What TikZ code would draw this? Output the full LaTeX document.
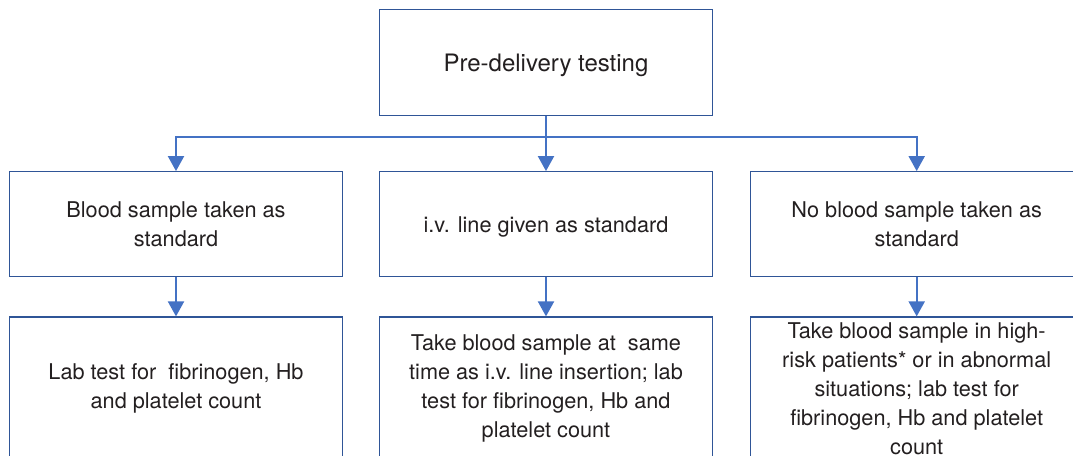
\documentclass[tikz,border=0pt]{standalone}
\usepackage{fontspec}
\setmainfont{TeX Gyre Heros}
\usetikzlibrary{arrows.meta}
\definecolor{boxblue}{HTML}{2F5597}
\definecolor{flowblue}{HTML}{4472C4}
\definecolor{inkgray}{HTML}{231F20}

\begin{document}
\begin{tikzpicture}[x=0.5pt,y=-0.5pt,
    stage/.style={shape=rectangle,draw=boxblue,line width=0.6pt,minimum width=166.5pt,
      minimum height=52.5pt,inner sep=0pt,align=center,text=inkgray,
      font=\fontsize{10.85}{14.5}\selectfont},
    oneline/.style={stage,text depth=0pt},
    action/.style={stage,minimum height=71.5pt},
    wire/.style={draw=flowblue,line width=1pt},
    flow/.style={wire,-{Triangle[width=8pt,length=7.5pt]}}]
  \useasboundingbox (0,0) rectangle (1073,456);
  \clip (0,0) rectangle (1073,456);

  % top box
  \node[oneline,minimum height=53pt,font=\fontsize{12}{14.5}\selectfont] (testing) at (546,62.5) {Pre-delivery testing};

  % standard practice
  \node[stage] (sample) at (176,224.2) {Blood sample taken as\\standard};
  \node[oneline] (ivline) at (546,224.2) {i.v. line given as standard};
  \node[stage] (nosample) at (916.7,224.2) {No blood sample taken as\\standard};

  % what to do
  \node[action] (labtest) at (176,388.5) {Lab test for~ fibrinogen, Hb\\and platelet count};
  \node[action] (ivsample) at (546,388.5) {Take blood sample at~ same\\time as i.v. line insertion; lab\\test for fibrinogen, Hb and\\platelet count};
  \node[action] (highrisk) at (916.7,388.5) {Take blood sample in high-\\risk patients* or in abnormal\\situations; lab test for\\fibrinogen, Hb and platelet\\count};

  % edges
  \coordinate (split) at (546,137);
  \draw[wire] (testing) -- (split);
  \draw[flow] (split) -| (sample.north);
  \draw[flow] (split) -- (ivline);
  \draw[flow] (split) -| (nosample.north);
  \draw[flow] (sample) -- (labtest);
  \draw[flow] (ivline) -- (ivsample);
  \draw[flow] (nosample) -- (highrisk);
\end{tikzpicture}
\end{document}
